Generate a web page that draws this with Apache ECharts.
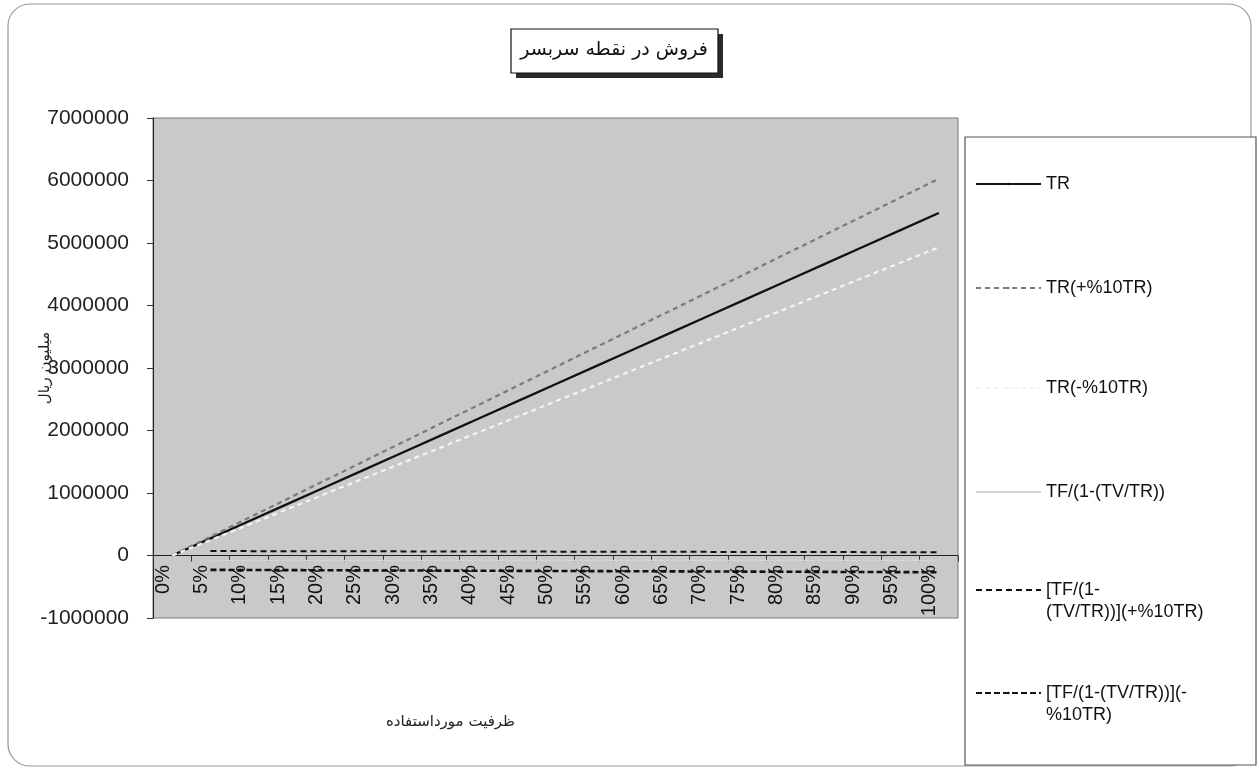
<!DOCTYPE html>
<html>
<head>
<meta charset="utf-8">
<script src="https://cdn.jsdelivr.net/npm/echarts@6/dist/echarts.min.js"></script>
<style>html,body{margin:0;padding:0;background:#fff;}#c{width:1259px;height:772px;}</style>
</head>
<body>
<div id="c"></div>
<script>
const categories = ['0%','5%','10%','15%','20%','25%','30%','35%','40%','45%','50%','55%','60%','65%','70%','75%','80%','85%','90%','95%','100%'];
const TR = [0,274000,548000,822000,1096000,1370000,1644000,1918000,2192000,2466000,2740000,3014000,3288000,3562000,3836000,4110000,4384000,4658000,4932000,5206000,5480000];
const TRplus = [0,301400,602800,904200,1205600,1507000,1808400,2109800,2411200,2712600,3014000,3315400,3616800,3918200,4219600,4521000,4822400,5123800,5425200,5726600,6028000];
const TRminus = [0,246600,493200,739800,986400,1233000,1479600,1726200,1972800,2219400,2466000,2712600,2959200,3205800,3452400,3699000,3945600,4192200,4438800,4685400,4932000];
const TFbase = [null,-80000,-80000,-80000,-80000,-80000,-80000,-80000,-80000,-80000,-80000,-80000,-80000,-80000,-80000,-80000,-80000,-80000,-80000,-80000,-80000];
const TFplus = [null,72000,70000,69000,68000,67000,66000,65000,64000,63000,62000,61000,60000,59000,58000,57000,56000,55000,54000,53000,52000];
const TFminus = [null,-230000,-232000,-234000,-236000,-238000,-240000,-242000,-244000,-246000,-248000,-250000,-252000,-254000,-256000,-258000,-260000,-262000,-264000,-266000,-268000];
const yTicks = {min:-1000000, max:7000000, interval:1000000};
const names = ['TR','TR(+%10TR)','TR(-%10TR)','TF/(1-(TV/TR))','[TF/(1-\n(TV/TR))](+%10TR)','[TF/(1-(TV/TR))](-\n%10TR)'];

const chart = echarts.init(document.getElementById('c'), null, {renderer:'canvas'});
const legendTops = [168, 272, 372, 476, 552, 655];
const legendFont = {fontFamily:'Liberation Sans, Arial, sans-serif', fontSize:18, color:'#111', lineHeight:22};
const legends = names.map((n,i)=>({
  show:true, orient:'vertical', left:970, top:legendTops[i],
  data:[n], itemWidth:65, itemHeight:3, itemGap:0, selectedMode:false,
  formatter: (nm) => nm.indexOf('\n') >= 0 ? '\n' + nm : nm,
  textStyle: legendFont
}));
function mk(name, data, color, type, width){
  return {name:name, type:'line', data:data, symbol:'none', connectNulls:false, silent:true,
    lineStyle:{color:color, type:type, width:width}, itemStyle:{color:color}, animation:false};
}
chart.setOption({
  animation:false,
  backgroundColor:'#fff',
  title:{
    text:'فروش در نقطه سربسر', left:'614', top:41, textAlign:'center',
    padding:0,
    textStyle:{fontFamily:'DejaVu Sans, sans-serif', fontSize:19, fontWeight:'normal', color:'#111'}
  },
  legend: legends,
  graphic:[
    {type:'rect', shape:{x:8, y:4, width:1243, height:762, r:22}, style:{fill:'none', stroke:'#999', lineWidth:1.2}, z:-10, silent:true},
    {type:'rect', shape:{x:965, y:137, width:291, height:628}, style:{fill:'#fff', stroke:'#555', lineWidth:1.2}, z:-5, silent:true},
    {type:'rect', shape:{x:516, y:34, width:207, height:44}, style:{fill:'#2a2a2a'}, z:-4, silent:true},
    {type:'rect', shape:{x:511, y:29, width:207, height:44}, style:{fill:'#fff', stroke:'#111', lineWidth:1.2}, z:-3, silent:true}
  ],
  grid:{left:153, right:301, top:118, bottom:154, outerBoundsMode:'none', containLabel:false,
        show:true, backgroundColor:'#c9c9c9', borderColor:'#777', borderWidth:1},
  xAxis:{
    type:'category', data:categories, boundaryGap:true,
    name:'ظرفیت مورداستفاده', nameLocation:'middle', nameGap:97,
    nameTextStyle:{fontFamily:'DejaVu Sans, sans-serif', fontSize:15, color:'#222', padding:[0,210,0,0]},
    axisLine:{onZero:true, lineStyle:{color:'#222', width:1}},
    axisTick:{show:true, inside:false, length:6, lineStyle:{color:'#333'}},
    axisLabel:{rotate:90, margin:-53, interval:0, lineHeight:18, formatter:(v)=>v + '\n',
      fontFamily:'Liberation Sans, Arial, sans-serif', fontSize:20, color:'#111'},
    splitLine:{show:false}
  },
  yAxis:{
    type:'value', min:yTicks.min, max:yTicks.max, interval:yTicks.interval,
    name:'میلیون ریال', nameLocation:'middle', nameGap:100, nameRotate:90, nameMoveOverlap:false,
    nameTextStyle:{fontFamily:'DejaVu Sans, sans-serif', fontSize:15, color:'#222'},
    axisLine:{show:true, onZero:false, lineStyle:{color:'#222', width:1}},
    axisTick:{show:true, length:6, lineStyle:{color:'#333'}},
    axisLabel:{margin:24, formatter:(v)=>String(v), fontFamily:'Liberation Sans, Arial, sans-serif', fontSize:21, color:'#222'},
    splitLine:{show:false}
  },
  series:[
    mk(names[0], TR, '#111', 'solid', 2.2),
    mk(names[1], TRplus, '#7a7a7a', [5,4], 2.2),
    mk(names[2], TRminus, '#f4f4f4', [5,4], 2.2),
    mk(names[3], TFbase, '#d3d3d3', 'solid', 1.5),
    mk(names[4], TFplus, '#111', [6,4], 2),
    mk(names[5], TFminus, '#111', [6,3], 2.6)
  ]
});
</script>
</body>
</html>
